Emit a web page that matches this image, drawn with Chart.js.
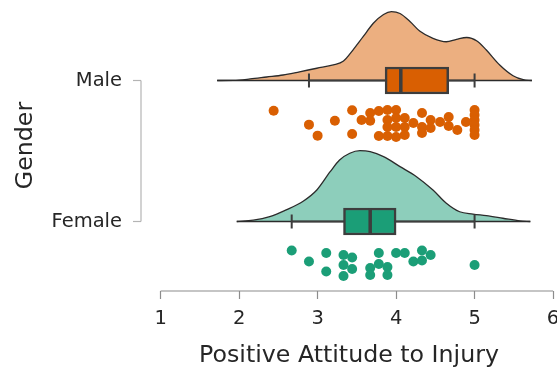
<!DOCTYPE html>
<html><head><meta charset="utf-8">
<script src="https://cdn.jsdelivr.net/npm/chart.js@4.4.1/dist/chart.umd.min.js"></script>
<style>html,body{margin:0;padding:0;background:#fff;}canvas{display:block;}</style>
</head><body>
<canvas id="c" width="557" height="369"></canvas>
<script>
// ---- data ----
const categories = ['Male', 'Female'];
const xTicks = [1, 2, 3, 4, 5, 6];

const maleScores = [2.44, 2.89, 3.00, 3.22, 3.44, 3.44, 3.56, 3.67, 3.67, 3.78, 3.78,
  3.89, 3.89, 3.89, 3.89, 4.00, 4.00, 4.00, 4.00, 4.11, 4.11, 4.11, 4.22,
  4.33, 4.33, 4.33, 4.44, 4.44, 4.56, 4.67, 4.67, 4.78, 4.89,
  5.00, 5.00, 5.00, 5.00, 5.00, 5.00];
const maleJitter = [0.214, 0.313, 0.391, 0.285, 0.211, 0.379, 0.280, 0.230, 0.285, 0.216, 0.394,
  0.209, 0.280, 0.330, 0.394, 0.209, 0.266, 0.330, 0.401, 0.266, 0.330, 0.387, 0.301,
  0.230, 0.330, 0.372, 0.280, 0.337, 0.294, 0.259, 0.323, 0.351, 0.294,
  0.209, 0.245, 0.280, 0.316, 0.351, 0.387];

const femaleScores = [2.67, 2.89, 3.11, 3.11, 3.33, 3.33, 3.33, 3.44, 3.44, 3.67, 3.67,
  3.78, 3.78, 3.89, 3.89, 4.00, 4.11, 4.22, 4.33, 4.33, 4.44, 5.00];
const femaleJitter = [0.206, 0.284, 0.223, 0.355, 0.238, 0.309, 0.387, 0.255, 0.337, 0.330, 0.379,
  0.223, 0.301, 0.323, 0.379, 0.223, 0.223, 0.284, 0.206, 0.277, 0.238, 0.309];

const maleDensityX = [1.72, 1.925, 2.14, 2.35, 2.56, 2.77, 2.99, 3.20, 3.33, 3.45, 3.58, 3.71, 3.84,
  3.94, 4.05, 4.18, 4.30, 4.47, 4.64, 4.77, 4.90, 5.03, 5.15, 5.32, 5.49, 5.62, 5.73];
const maleDensity = [0, 0.001, 0.011, 0.025, 0.039, 0.062, 0.087, 0.110, 0.138, 0.216, 0.311, 0.406, 0.468,
  0.488, 0.475, 0.417, 0.351, 0.299, 0.275, 0.292, 0.305, 0.280, 0.216, 0.110, 0.034, 0.006, 0];

const femaleDensityX = [1.97, 2.18, 2.39, 2.60, 2.82, 2.99, 3.16, 3.28, 3.41, 3.54, 3.67, 3.84,
  4.05, 4.26, 4.47, 4.64, 4.81, 4.98, 5.15, 5.36, 5.58, 5.71];
const femaleDensity = [0, 0.009, 0.034, 0.082, 0.145, 0.223, 0.353, 0.436, 0.484, 0.502, 0.495, 0.460,
  0.389, 0.318, 0.223, 0.129, 0.069, 0.053, 0.041, 0.023, 0.004, 0];

// whisker low, Q1, median, Q3, whisker high
const maleBox = [2.89, 3.86, 4.06, 4.67, 5.00];
const femaleBox = [2.67, 3.33, 3.67, 4.00, 5.00];

// ---- styling ----
const solid = ['#d95f02', '#1b9e77'];
const light = ['rgba(217,95,2,0.5)', 'rgba(27,158,119,0.5)'];
const ink = '#262626';
const edge = '#2b2b2b';
const boxEdge = '#3d3d3d';
const FONT = 'DejaVu Sans';
Chart.defaults.font.family = FONT;

const groups = [
  {scores: maleScores, jitter: maleJitter, dx: maleDensityX, dh: maleDensity, box: maleBox},
  {scores: femaleScores, jitter: femaleJitter, dx: femaleDensityX, dh: femaleDensity, box: femaleBox}
];

const halfBox = 0.0957;  // half box height in category units
const capHalf = 0.05;

const datasets = [];
groups.forEach((g, i) => {
  datasets.push({
    type: 'line', order: 10,
    data: g.dx.map((v, k) => ({x: v, y: i - g.dh[k]})),
    fill: {value: i}, backgroundColor: light[i],
    borderColor: edge, borderWidth: 1.3, pointRadius: 0,
    cubicInterpolationMode: 'monotone'
  });
  datasets.push({
    type: 'line', order: 9,
    data: [{x: g.dx[0], y: i}, {x: g.dx[g.dx.length - 1], y: i}],
    borderColor: edge, borderWidth: 1.3, pointRadius: 0, fill: false
  });
  datasets.push({
    type: 'line', order: 8,
    data: [{x: g.box[0], y: i}, {x: g.box[4], y: i}],
    borderColor: boxEdge, borderWidth: 2, pointRadius: 0, fill: false
  });
  [g.box[0], g.box[4]].forEach(w => {
    datasets.push({
      type: 'line', order: 7,
      data: [{x: w, y: i - capHalf}, {x: w, y: i + capHalf}],
      borderColor: boxEdge, borderWidth: 2, pointRadius: 0, fill: false
    });
  });
  datasets.push({
    type: 'line', order: 5,
    data: [{x: g.box[2], y: i - halfBox}, {x: g.box[2], y: i + halfBox}],
    borderColor: boxEdge, borderWidth: 3.5, pointRadius: 0, fill: false
  });
  datasets.push({
    type: 'scatter', order: 1,
    data: g.scores.map((v, k) => ({x: v, y: i + g.jitter[k]})),
    pointRadius: 5, pointHoverRadius: 5, pointBorderWidth: 0,
    backgroundColor: solid[i], borderColor: solid[i]
  });
});
datasets.push({
  type: 'bar', order: 6, indexAxis: 'y', grouped: false,
  data: groups.map((g, i) => ({x: [g.box[1], g.box[3]], y: i})),
  backgroundColor: solid, borderColor: boxEdge, borderWidth: 2.5,
  borderSkipped: false, maxBarThickness: 27, barThickness: 27
});

const spines = {
  id: 'spines',
  afterDraw(chart) {
    const {ctx, chartArea, scales: {x, y}} = chart;
    ctx.save();
    ctx.lineWidth = 1.2;
    ctx.strokeStyle = '#8c8c8c';
    ctx.beginPath();
    ctx.moveTo(x.getPixelForValue(xTicks[0]), chartArea.bottom);
    ctx.lineTo(x.getPixelForValue(xTicks[xTicks.length - 1]), chartArea.bottom);
    ctx.stroke();
    ctx.strokeStyle = '#b4b4b4';
    ctx.beginPath();
    ctx.moveTo(chartArea.left, y.getPixelForValue(0));
    ctx.lineTo(chartArea.left, y.getPixelForValue(categories.length - 1));
    ctx.stroke();
    ctx.restore();
  }
};

new Chart(document.getElementById('c'), {
  type: 'line',
  data: {datasets},
  plugins: [spines],
  options: {
    responsive: false, animation: false, devicePixelRatio: 1,
    layout: {autoPadding: false, padding: 0},
    plugins: {legend: {display: false}, tooltip: {enabled: false}},
    scales: {
      x: {
        type: 'linear', min: 0.75, max: 6.05, offset: false, beginAtZero: false,
        afterBuildTicks: a => { a.ticks = xTicks.map(v => ({value: v})); },
        afterFit: a => { a.height = 78; a.paddingLeft = 0; a.paddingRight = 0; },
        grid: {offset: false, drawOnChartArea: false, drawTicks: true, tickLength: 8, tickColor: '#8c8c8c', tickWidth: 1.2},
        border: {display: false},
        ticks: {font: {family: FONT, size: 19.5, lineHeight: 1}, color: ink, padding: 10, maxRotation: 0},
        title: {display: true, text: 'Positive Attitude to Injury', color: ink,
          font: {family: FONT, size: 23.7, lineHeight: 1.1}, padding: {top: 0, bottom: 0}}
      },
      y: {
        type: 'linear', reverse: true, min: -0.571, max: 1.493, offset: false, beginAtZero: false,
        afterBuildTicks: a => { a.ticks = categories.map((c, i) => ({value: i})); },
        afterFit: a => { a.width = 141; a.paddingTop = 0; a.paddingBottom = 0; },
        grid: {offset: false, drawOnChartArea: false, drawTicks: true, tickLength: 8, tickColor: '#b4b4b4', tickWidth: 1.2},
        border: {display: false},
        ticks: {font: {family: FONT, size: 19.5}, color: ink, padding: 11,
          callback: v => categories[v]},
        title: {display: true, text: 'Gender', color: ink,
          font: {family: FONT, size: 23.7, lineHeight: 1.1}, padding: {top: 13, bottom: 0}}
      }
    }
  }
});
</script>
</body></html>
